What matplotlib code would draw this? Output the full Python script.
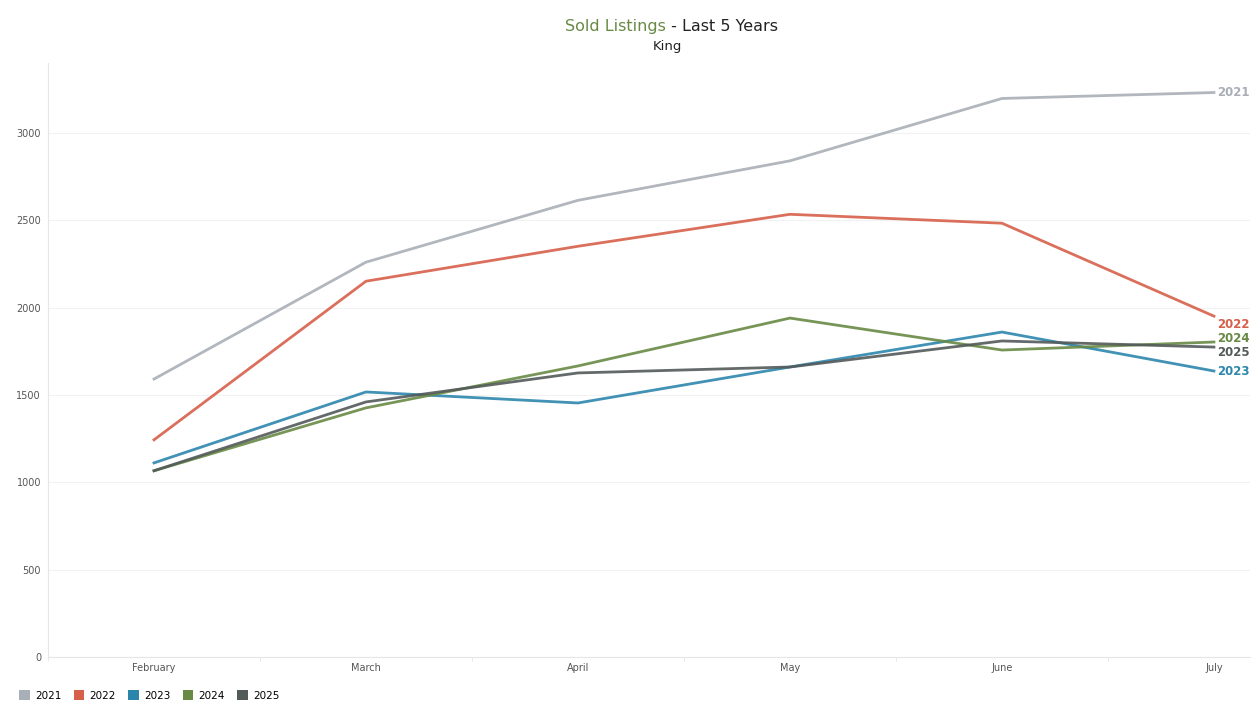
import matplotlib.pyplot as plt
from matplotlib.patches import Patch

months = ["February", "March", "April", "May", "June", "July"]
years = ["2021", "2022", "2023", "2024", "2025"]
sold_2021 = [1591, 2260, 2614, 2840, 3197, 3231]
sold_2022 = [1243, 2151, 2351, 2534, 2483, 1951]
sold_2023 = [1111, 1517, 1454, 1660, 1860, 1637]
sold_2024 = [1066, 1426, 1666, 1940, 1757, 1803]
sold_2025 = [1066, 1460, 1626, 1660, 1809, 1774]
colors = ["#a9afb6", "#d6604a", "#2c86ac", "#688a44", "#535a5a"]

series = [sold_2021, sold_2022, sold_2023, sold_2024, sold_2025]
# vertical nudges (in data units) for the end labels so they don't pile up
label_offsets = [0, -48, 0, 20, -32]

fig = plt.figure(figsize=(12.6, 7.1), dpi=100)
ax = fig.add_axes([48 / 1260, 1 - 657 / 710, 1202 / 1260, 594 / 710])

x = list(range(len(months)))
for yr, vals, c, off in zip(years, series, colors, label_offsets):
    ax.plot(x, vals, color=c, lw=2.0, alpha=0.9, solid_joinstyle="miter")
    ax.annotate(yr, (x[-1], vals[-1] + off), xytext=(2, 0), textcoords="offset points",
                color=c, fontsize=8.5, fontweight="bold", va="center", ha="left")

ax.set_xlim(-0.5, 5.17)
ax.set_ylim(0, 3400)
ax.set_xticks(x)
ax.set_xticklabels(months, fontsize=7, color="#555555")
ax.set_xticks([i + 0.5 for i in x[:-1]] + [-0.5], minor=True)
ax.set_yticks([0, 500, 1000, 1500, 2000, 2500, 3000])
ax.tick_params(axis="y", labelsize=7, labelcolor="#555555", length=0, pad=5)
ax.tick_params(axis="x", which="major", length=0, pad=4)
ax.tick_params(axis="x", which="minor", length=3, color="#e6e6e6")
ax.grid(axis="y", color="#f2f2f2", lw=0.8)
ax.set_axisbelow(True)
for s in ["top", "right"]:
    ax.spines[s].set_visible(False)
for s in ["left", "bottom"]:
    ax.spines[s].set_color("#e6e6e6")
    ax.spines[s].set_linewidth(0.8)

fig.text(0.5286, 0.962, "Sold Listings", color="#688a44", fontsize=11.5, ha="right", va="center")
fig.text(0.5286, 0.962, " - Last 5 Years", color="#222222", fontsize=11.5, ha="left", va="center")
fig.text(0.53, 0.935, "King", color="#222222", fontsize=9.5, ha="center", va="center")

handles = [Patch(facecolor=c, label=yr) for yr, c in zip(years, colors)]
fig.legend(handles=handles, loc="lower left", bbox_to_anchor=(0.008, 0.0), ncol=5,
           frameon=False, fontsize=7.5, handlelength=1.0, handleheight=1.0,
           handletextpad=0.5, columnspacing=1.2)

fig.savefig("out.png", dpi=100)
